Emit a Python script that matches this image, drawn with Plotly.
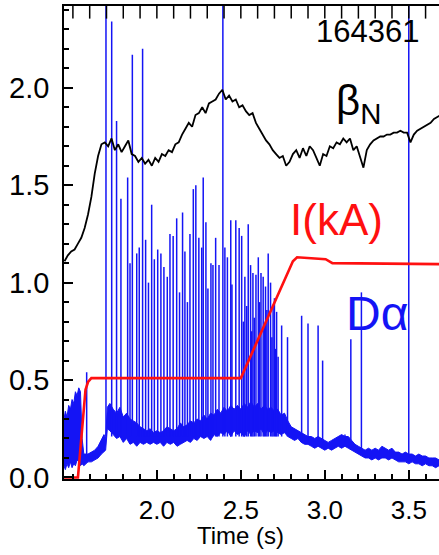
import numpy as np
import plotly.graph_objects as go

# ---------------- data ----------------
# beta_N (black), sampled every 0.02 s from 1.45 s
bn_t = np.round(np.arange(1.45, 3.695, 0.02), 2)
bn_v = [1.11, 1.14, 1.16, 1.17, 1.20, 1.23, 1.28, 1.35, 1.44, 1.56,
        1.65, 1.71, 1.72, 1.70, 1.74, 1.68, 1.71, 1.67, 1.70, 1.73,
        1.66, 1.65, 1.62, 1.64, 1.61, 1.63, 1.60, 1.64, 1.62, 1.66,
        1.65, 1.68, 1.67, 1.71, 1.72, 1.76, 1.79, 1.82, 1.80, 1.86,
        1.87, 1.90, 1.87, 1.92, 1.93, 1.94, 1.97, 1.99, 1.94, 1.96,
        1.93, 1.94, 1.90, 1.91, 1.88, 1.86, 1.87, 1.82, 1.79, 1.76,
        1.73, 1.71, 1.68, 1.66, 1.64, 1.65, 1.60, 1.62, 1.66, 1.68,
        1.64, 1.69, 1.65, 1.70, 1.68, 1.64, 1.60, 1.66, 1.65, 1.70,
        1.69, 1.72, 1.71, 1.74, 1.72, 1.74, 1.68, 1.70, 1.65, 1.59,
        1.68, 1.71, 1.73, 1.74, 1.75, 1.75, 1.76, 1.76, 1.77, 1.77,
        1.78, 1.77, 1.77, 1.72, 1.76, 1.78, 1.79, 1.80, 1.81, 1.82,
        1.84, 1.85, 1.86]

# plasma current I (red)
cur_t = [1.447, 1.530, 1.545, 1.560, 1.575, 1.590, 1.610, 2.500, 2.810, 2.835, 3.005, 3.045, 3.680]
cur_v = [0.0, 0.0, 0.15, 0.32, 0.45, 0.49, 0.51, 0.51, 1.11, 1.13, 1.12, 1.10, 1.095]

# D-alpha baseline noise envelope (blue)
band_t = [1.447, 1.455, 1.465, 1.475, 1.485, 1.495, 1.505, 1.515, 1.525, 1.535,
          1.545, 1.555, 1.565, 1.575, 1.590, 1.610, 1.630, 1.650, 1.670, 1.685,
          1.695, 1.705, 1.72, 1.74, 1.76, 1.78, 1.80, 1.82, 1.84, 1.86,
          1.88, 1.90, 1.92, 1.94, 1.96, 1.98, 2.00, 2.02, 2.04, 2.06,
          2.08, 2.10, 2.12, 2.14, 2.16, 2.18, 2.20, 2.22, 2.24, 2.26,
          2.28, 2.30, 2.32, 2.34, 2.36, 2.38, 2.40, 2.42, 2.44, 2.46,
          2.48, 2.50, 2.52, 2.54, 2.56, 2.58, 2.60, 2.62, 2.64, 2.66,
          2.68, 2.70, 2.72, 2.74, 2.76, 2.78, 2.80, 2.82, 2.84, 2.86,
          2.88, 2.90, 2.92, 2.94, 2.96, 2.98, 3.00, 3.02, 3.04, 3.06,
          3.08, 3.10, 3.12, 3.14, 3.16, 3.18, 3.20, 3.22, 3.24, 3.26,
          3.28, 3.30, 3.32, 3.34, 3.36, 3.38, 3.40, 3.42, 3.44, 3.46,
          3.48, 3.50, 3.52, 3.54, 3.56, 3.58, 3.60, 3.62, 3.64, 3.66,
          3.68, 3.69]
band_lo = [0.06, 0.04, 0.07, 0.05, 0.08, 0.05, 0.07, 0.06, 0.09, 0.08,
           0.06, 0.07, 0.06, 0.07, 0.08, 0.08, 0.09, 0.10, 0.12, 0.13,
           0.14, 0.25, 0.24, 0.22, 0.20, 0.21, 0.18, 0.20, 0.17, 0.18,
           0.16, 0.18, 0.17, 0.18, 0.17, 0.18, 0.17, 0.18, 0.16, 0.18,
           0.17, 0.18, 0.16, 0.17, 0.18, 0.19, 0.18, 0.20, 0.19, 0.21,
           0.20, 0.21, 0.19, 0.22, 0.21, 0.23, 0.22, 0.24, 0.21, 0.24,
           0.22, 0.23, 0.21, 0.24, 0.22, 0.24, 0.23, 0.25, 0.22, 0.24,
           0.23, 0.24, 0.23, 0.22, 0.23, 0.21, 0.20, 0.19, 0.20, 0.18,
           0.17, 0.17, 0.16, 0.15, 0.16, 0.15, 0.14, 0.15, 0.14, 0.15,
           0.16, 0.15, 0.16, 0.15, 0.14, 0.13, 0.12, 0.11, 0.10, 0.10,
           0.09, 0.10, 0.09, 0.10, 0.10, 0.09, 0.10, 0.09, 0.08, 0.08,
           0.08, 0.07, 0.08, 0.07, 0.07, 0.06, 0.07, 0.06, 0.06, 0.05,
           0.06, 0.05]
band_hi = [0.30, 0.34, 0.31, 0.37, 0.35, 0.40, 0.38, 0.44, 0.42, 0.46,
           0.44, 0.20, 0.12, 0.12, 0.12, 0.13, 0.14, 0.16, 0.19, 0.22,
           0.20, 0.36, 0.38, 0.35, 0.33, 0.36, 0.31, 0.33, 0.30, 0.29,
           0.28, 0.26, 0.25, 0.24, 0.25, 0.23, 0.24, 0.23, 0.24, 0.26,
           0.25, 0.24, 0.25, 0.28, 0.26, 0.27, 0.29, 0.28, 0.30, 0.29,
           0.32, 0.30, 0.33, 0.32, 0.35, 0.33, 0.36, 0.34, 0.37, 0.35,
           0.37, 0.35, 0.38, 0.36, 0.39, 0.36, 0.38, 0.35, 0.37, 0.35,
           0.36, 0.34, 0.35, 0.32, 0.33, 0.29, 0.26, 0.25, 0.24, 0.23,
           0.22, 0.21, 0.21, 0.20, 0.21, 0.20, 0.19, 0.18, 0.19, 0.20,
           0.21, 0.22, 0.21, 0.21, 0.19, 0.17, 0.16, 0.15, 0.14, 0.15,
           0.14, 0.15, 0.14, 0.16, 0.15, 0.14, 0.15, 0.13, 0.13, 0.12,
           0.13, 0.12, 0.12, 0.11, 0.12, 0.11, 0.11, 0.10, 0.10, 0.10,
           0.09, 0.09]

# D-alpha ELM spikes
spike_t = [1.582, 1.697, 1.731, 1.760, 1.786, 1.826, 1.840, 1.854, 1.880, 1.895,
           1.915, 1.933, 1.950, 1.969, 1.985, 2.005, 2.024, 2.042, 2.062, 2.078,
           2.097, 2.118, 2.135, 2.153, 2.167, 2.182, 2.197, 2.217, 2.232, 2.250,
           2.267, 2.276, 2.292, 2.304, 2.322, 2.334, 2.350, 2.370, 2.393, 2.405,
           2.420, 2.440, 2.447, 2.470, 2.490, 2.505, 2.515, 2.524, 2.535, 2.544,
           2.558, 2.565, 2.572, 2.580, 2.590, 2.604, 2.612, 2.620, 2.633, 2.640,
           2.647, 2.655, 2.663, 2.677, 2.685, 2.692, 2.700, 2.707, 2.713, 2.722,
           2.743, 2.778, 2.862, 2.900, 2.960, 2.987, 3.120, 3.155, 3.218, 3.500]
spike_peak = [0.54, 3.0, 2.34, 1.83, 1.43, 1.54, 1.10, 2.17, 1.15, 1.18,
              2.20, 1.22, 1.00, 1.40, 1.12, 1.17, 1.15, 1.08, 1.03, 1.25,
              1.24, 1.33, 0.95, 1.36, 1.16, 0.90, 1.25, 1.48, 1.50, 1.23,
              1.18, 1.54, 1.31, 0.97, 1.10, 1.09, 1.23, 1.09, 3.0, 1.18,
              1.13, 1.32, 0.99, 1.32, 1.28, 1.24, 0.80, 1.03, 0.88, 1.30,
              1.09, 0.75, 1.05, 0.82, 1.04, 1.13, 0.90, 1.05, 1.03, 0.78,
              0.98, 0.86, 1.15, 1.00, 0.72, 0.88, 0.92, 0.66, 0.85, 0.62,
              0.78, 0.72, 0.83, 0.79, 0.78, 0.60, 0.22, 0.71, 0.95, 3.0]
spike_base = [0.10] + [0.21] * 71 + [0.18] * 5 + [0.17, 0.13, 0.10]

x_ticks = [2.0, 2.5, 3.0, 3.5]
y_ticks = [0.0, 0.5, 1.0, 1.5, 2.0]
top_ticks = [1.5, 1.6, 1.7, 1.8, 1.9, 2.0, 2.1, 2.2, 2.3, 2.4, 2.5, 2.6,
             2.7, 2.8, 2.9, 3.0, 3.1, 3.2, 3.3, 3.4, 3.5, 3.6]

# ---------------- figure ----------------
BLUE = "#1414f5"
FONT = "Liberation Sans, Arial, sans-serif"
X_RANGE = [1.447, 3.68]
Y_RANGE = [-0.008, 2.42]

fig = go.Figure()

fig.add_trace(go.Scatter(x=band_t, y=band_lo, mode="lines",
                         line=dict(color=BLUE, width=1), hoverinfo="skip"))
fig.add_trace(go.Scatter(x=band_t, y=band_hi, mode="lines", fill="tonexty",
                         fillcolor=BLUE, line=dict(color=BLUE, width=1), hoverinfo="skip"))

sx, sy = [], []
for t, b, h in zip(spike_t, spike_base, spike_peak):
    sx += [t, t, None]
    sy += [b, h, None]
fig.add_trace(go.Scatter(x=sx, y=sy, mode="lines",
                         line=dict(color=BLUE, width=1.5), hoverinfo="skip"))

fig.add_trace(go.Scatter(x=bn_t, y=bn_v, mode="lines",
                         line=dict(color="black", width=1.8)))

fig.add_trace(go.Scatter(x=cur_t, y=cur_v, mode="lines",
                         line=dict(color="#ff1010", width=2.6)))

# tick marks along the top frame (vertical line markers, clipped to the plot area)
fig.add_trace(go.Scatter(x=top_ticks, y=[Y_RANGE[1]] * len(top_ticks), mode="markers",
                         cliponaxis=True, hoverinfo="skip",
                         marker=dict(symbol="line-ns-open", size=18, color="black",
                                     line=dict(width=1.5, color="black"))))

def px(xp):
    return (xp - 64) / 375.0

def py(yp):
    return (479 - yp) / 473.0

annos = [
    dict(text="164361", x=px(367), y=py(32), size=31, color="black"),
    dict(text="β<sub>N</sub>", x=px(358), y=py(103), size=42, color="black"),
    dict(text="I(kA)", x=px(336), y=py(219), size=44, color="#ff1010"),
    dict(text="Dα", x=px(377), y=py(313), size=48, color=BLUE),
    dict(text="Time (s)", x=px(240), y=py(535), size=24, color="black"),
]
for a in annos:
    fig.add_annotation(text=a["text"], x=a["x"], y=a["y"], xref="paper", yref="paper",
                       xanchor="center", yanchor="middle", showarrow=False,
                       font=dict(family=FONT, size=a["size"], color=a["color"]))

fig.update_layout(
    width=439, height=555,
    margin=dict(l=64, r=0, t=6, b=76),
    paper_bgcolor="white", plot_bgcolor="white",
    showlegend=False,
    font=dict(family=FONT, size=27, color="black"),
    xaxis=dict(
        range=X_RANGE, tickvals=x_ticks, ticktext=[f"{v:.1f}" for v in x_ticks],
        ticks="inside", ticklen=9, tickwidth=1.5, tickcolor="black",
        minor=dict(dtick=0.1, tick0=2.0, ticks="inside", ticklen=5, tickwidth=1.5, tickcolor="black"),
        showline=True, linecolor="black", linewidth=1.5, mirror=True,
        showgrid=False, zeroline=False, ticklabelstandoff=7,
        tickfont=dict(size=26), automargin=False,
    ),
    yaxis=dict(
        range=Y_RANGE, tickvals=y_ticks, ticktext=[f"{v:.1f}" for v in y_ticks],
        ticks="inside", ticklen=9, tickwidth=1.5, tickcolor="black",
        minor=dict(dtick=0.1, tick0=0.0, ticks="inside", ticklen=5, tickwidth=1.5, tickcolor="black"),
        showline=True, linecolor="black", linewidth=1.5,
        showgrid=False, zeroline=False, ticklabelstandoff=7,
        tickfont=dict(size=29), automargin=False,
    ),
)

fig.write_html("out.html")
